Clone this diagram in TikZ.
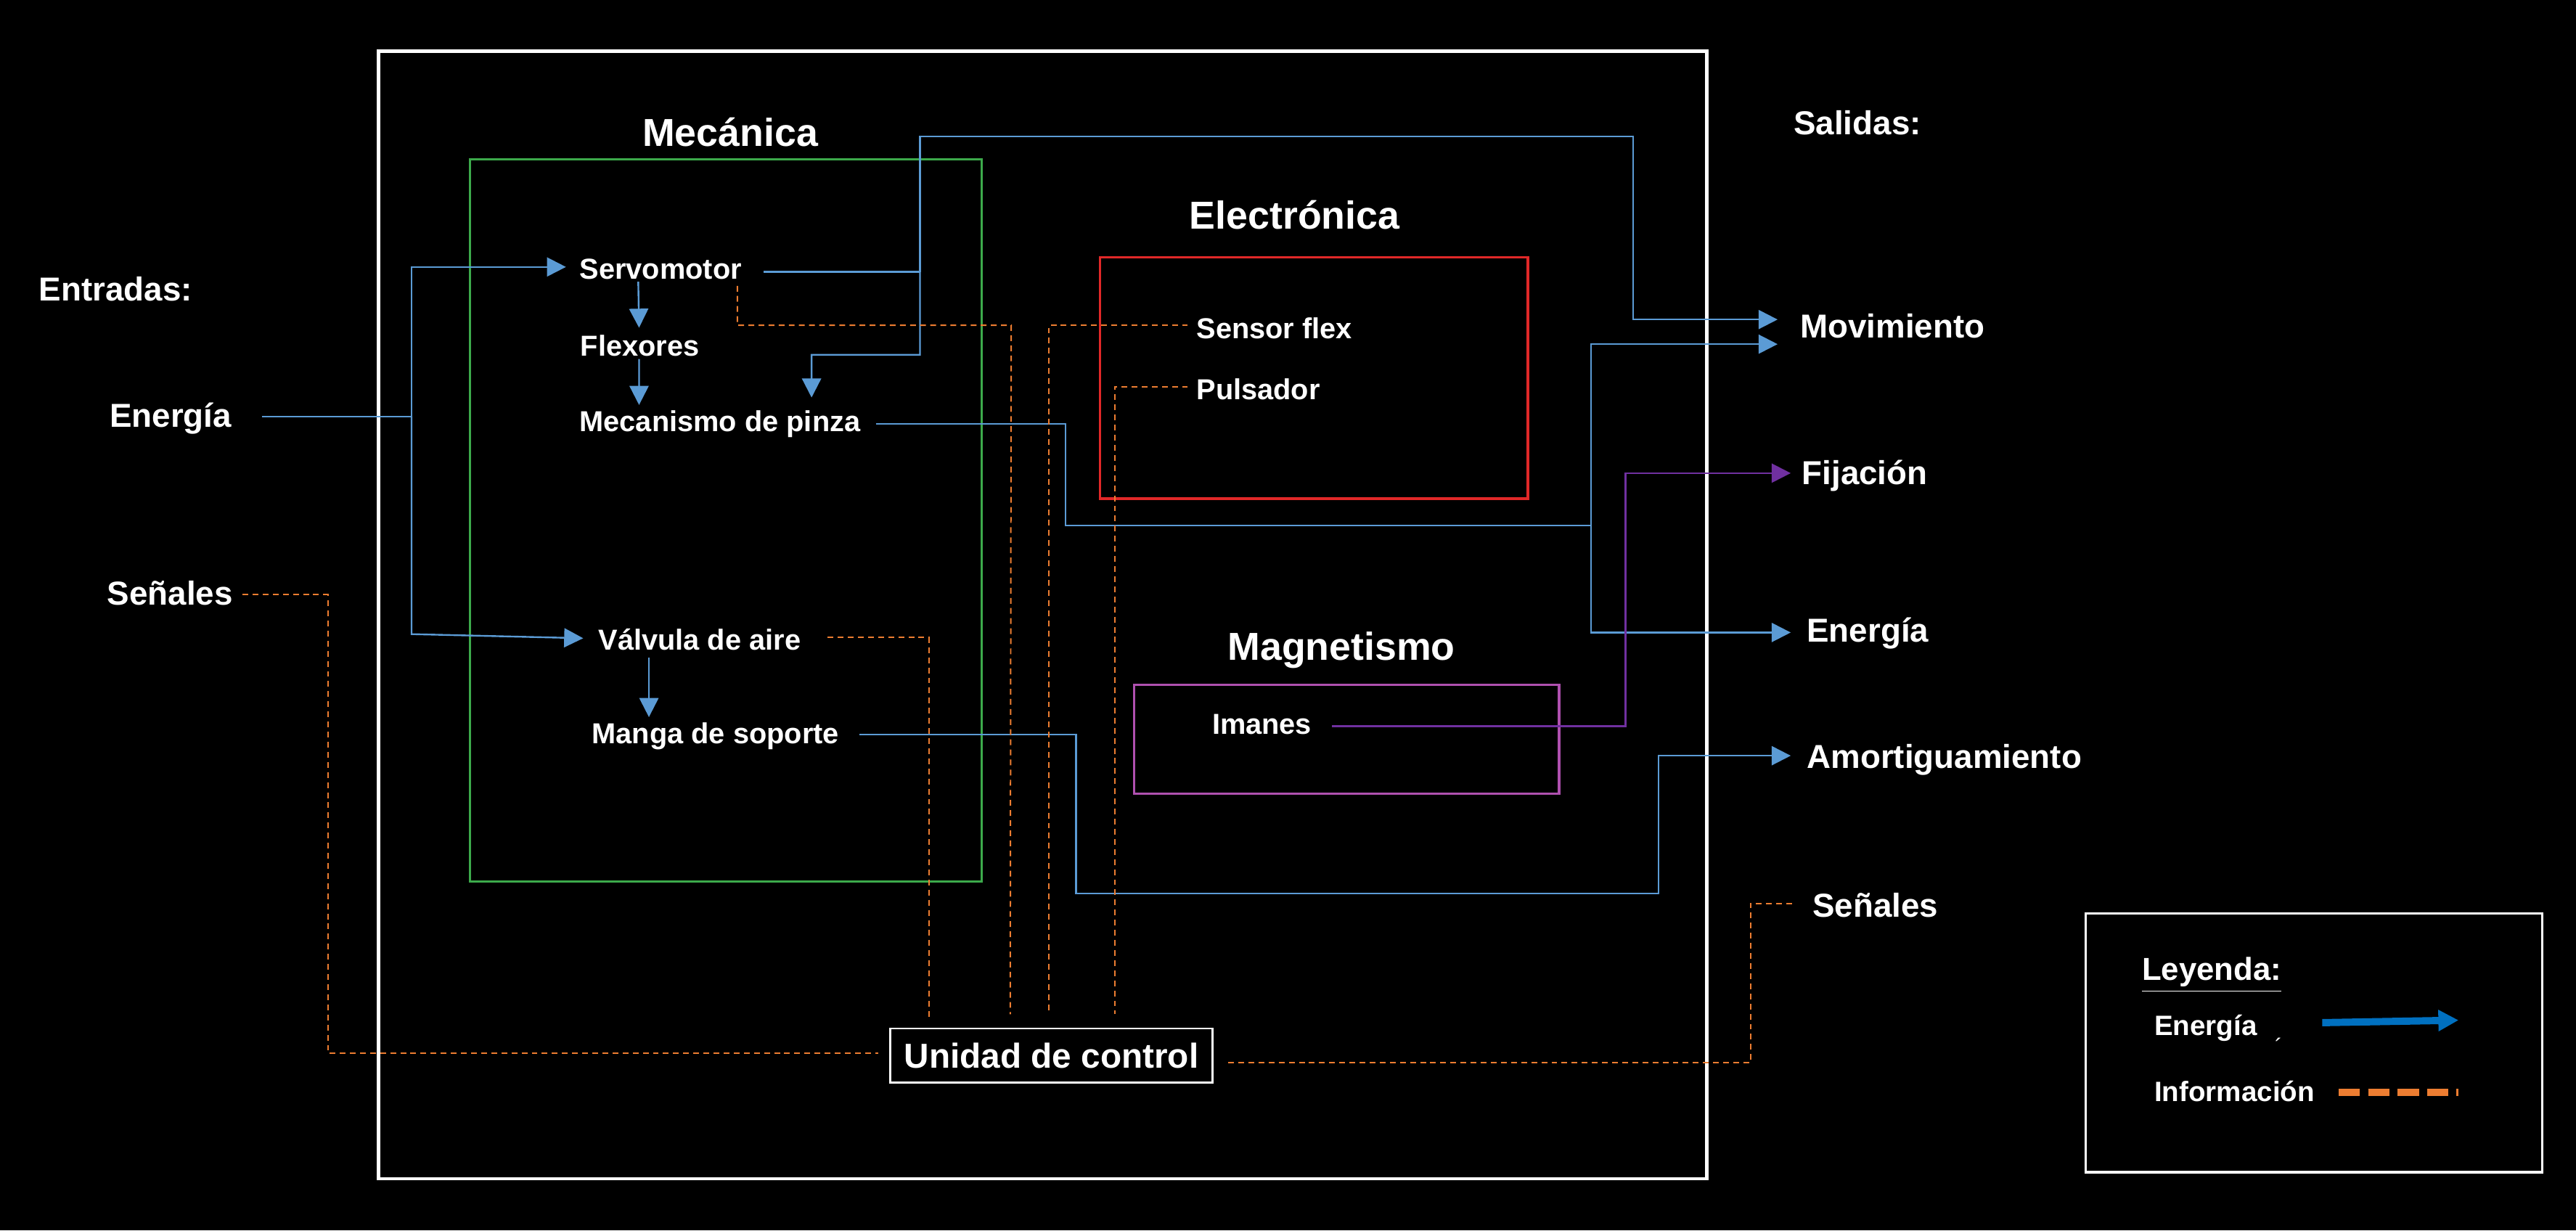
\documentclass[tikz,border=0pt]{standalone}
\usepackage{fontspec}
\setmainfont{Liberation Sans}
\usepackage{xcolor}
\usetikzlibrary{arrows.meta, calc}

\definecolor{eblue}{RGB}{91,155,213}
\definecolor{iorange}{RGB}{237,125,49}
\definecolor{mgreen}{RGB}{60,170,75}
\definecolor{ered}{RGB}{225,40,40}
\definecolor{magpink}{RGB}{175,80,175}
\definecolor{fijpurple}{RGB}{112,48,160}
\definecolor{legblue}{RGB}{0,112,192}

\begin{document}
\begin{tikzpicture}[x=0.02cm, y=-0.02cm,
    lbl/.style={anchor=west, inner sep=0pt, text=white, text height=0.72em, text depth=0pt, font=\bfseries\fontsize{10}{12}\selectfont},
    side/.style={lbl, font=\bfseries\fontsize{11.5}{14}\selectfont},
    leglbl/.style={lbl, font=\bfseries\fontsize{9.7}{12}\selectfont},
    areatitle/.style={anchor=base, inner sep=0pt, text=white, font=\bfseries\fontsize{13.5}{16}\selectfont},
    energy/.style={draw=eblue, line width=0.6pt},
    energyarrow/.style={energy, -{Triangle[length=6.6pt, width=6.6pt]}},
    magarrow/.style={draw=fijpurple, line width=0.6pt, -{Triangle[length=6.6pt, width=6.6pt]}},
    info/.style={draw=iorange, line width=0.5pt, dash pattern=on 2pt off 1.5pt}]

    \useasboundingbox (0,0) rectangle (1568,749);
    \fill[black] (0,0) rectangle (1568,749);

    % System boundary
    \draw[white, line width=1.25pt] (230.5,31) rectangle (1039,717.5);

    % Subsystems
    \draw[mgreen, line width=0.7pt] (286,97) rectangle (597.5,536.5);
    \node[areatitle] (mectitle) at (444.5,89) {Mecánica};
    \draw[ered, line width=0.8pt] (669.5,156.5) rectangle (930,303.5);
    \node[areatitle] (eletitle) at (788,139.5) {Electrónica};
    \draw[magpink, line width=0.8pt] (690.5,417) rectangle (949,483);
    \node[areatitle] (magtitle) at (816.5,402) {Magnetismo};

    % Inputs
    \node[side] (entradas) at (23.5,177) {Entradas:};
    \node[side] (ein) at (66.5,253.5) {Energía};
    \node[side] (sin) at (65,362) {Señales};

    % Outputs
    \node[side] (salidas) at (1091.5,75.5) {Salidas:};
    \node[side] (mov) at (1095.5,199.5) {Movimiento};
    \node[side] (fij) at (1096.5,288.5) {Fijación};
    \node[side] (eout) at (1099.5,384.5) {Energía};
    \node[side] (amort) at (1099.5,461.5) {Amortiguamiento};
    \node[side] (sout) at (1103,552) {Señales};

    % Components
    \node[lbl] (servo) at (352.5,163.5) {Servomotor};
    \node[lbl] (flex) at (353,210.5) {Flexores};
    \node[lbl] (pinza) at (352.5,256.5) {Mecanismo de pinza};
    \node[lbl] (valv) at (364,389.5) {Válvula de aire};
    \node[lbl] (manga) at (360,446.5) {Manga de soporte};
    \node[lbl] (sensor) at (728,200) {Sensor flex};
    \node[lbl] (puls) at (728,237) {Pulsador};
    \node[lbl] (imanes) at (737.5,440.5) {Imanes};

    % Control unit
    \node[draw=white, line width=0.7pt, text=white, minimum width=3.92cm, minimum height=0.66cm,
          inner sep=0pt, font=\bfseries\fontsize{12}{14}\selectfont] (uc) at (640,642.5) {Unidad de control};

    % Energy flow
    \coordinate (jin) at (250.5,253.5);
    \draw[energy] ($(ein.east)+(18,0)$) -- (jin);
    \draw[energyarrow] (jin) |- ($(servo.west)+(-8,-1)$);
    \draw[energyarrow] (jin) -- (250.5,386) -- ($(valv.west)+(-9,-1)$);
    \draw[energyarrow] ($(servo.west)+(36,8)$) -- ($(flex.west)+(36,-11)$);
    \draw[energyarrow] ($(flex.west)+(36,8)$) -- ($(pinza.west)+(36.5,-10)$);
    \draw[energyarrow] ($(valv.west)+(31,11)$) -- ($(manga.west)+(35,-10)$);

    \coordinate (jservo) at (560,165.5);
    \draw[energy] ($(servo.east)+(13,2)$) -- (jservo);
    \draw[energyarrow] (jservo) -- (560,83) -| (994,194.5) -- ($(mov.west)+(-13.5,-5)$);
    \draw[energyarrow] (jservo) |- (494,216) -- ($(pinza.west)+(141.5,-14.5)$);

    \coordinate (jpinza) at (968.5,320);
    \draw[energy] ($(pinza.east)+(9,1.5)$) -| (648.5,320) -- (jpinza);
    \draw[energyarrow] (jpinza) |- ($(mov.west)+(-13.5,10)$);
    \draw[energyarrow] (jpinza) |- ($(eout.west)+(-9.5,0.5)$);

    \draw[energyarrow] ($(manga.east)+(12,0.5)$) -| (655,544) -| (1009.5,460) -- ($(amort.west)+(-9.5,-1.5)$);
    \draw[magarrow] ($(imanes.east)+(12,1.5)$) -| (989.5,288) -- ($(fij.west)+(-6.5,-0.5)$);

    % Information flow
    \draw[info] ($(servo.east)+(-3,10.5)$) |- (615.5,198) -- ($(uc.north west)+(73.5,-8)$);
    \draw[info] ($(valv.east)+(16,-1.5)$) -| ($(uc.north west)+(24,-6)$);
    \draw[info] ($(sensor.west)+(-5,-2)$) -| ($(uc.north west)+(97,-8)$);
    \draw[info] ($(puls.west)+(-5,-1.5)$) -| ($(uc.north west)+(137,-8)$);
    \draw[info] ($(sin.east)+(5.5,0)$) -| (199.5,641) -- ($(uc.west)+(-7,-1.5)$);
    \draw[info] ($(uc.east)+(9,4.5)$) -| (1065.5,550) -- ($(sout.west)+(-10,-2)$);

    % Legend
    \draw[white, line width=0.8pt] (1269.5,556) rectangle (1547.5,713.5);
    \node[lbl, font=\bfseries\fontsize{11}{13}\selectfont] (legtitle) at (1303.5,590.5) {\underline{Leyenda:}};
    \node[leglbl] (legenergy) at (1311,624) {Energía};
    \node[font=\fontsize{8}{8}\selectfont, text=white, inner sep=0pt] (legmark) at (1387,637) {´};
    \node[leglbl] (leginfo) at (1311,664) {Información};
    \coordinate (legea) at (1413.5,622.5);
    \coordinate (legeb) at (1496.5,621);
    \draw[legblue, line width=2.5pt, -{Triangle[length=7pt, width=7pt]}] (legea) -- (legeb);
    \coordinate (legia) at (1423.5,665);
    \coordinate (legib) at (1496.5,665);
    \draw[iorange, line width=2.5pt, dash pattern=on 7.4pt off 2.8pt] (legia) -- (legib);

\end{tikzpicture}
\end{document}
